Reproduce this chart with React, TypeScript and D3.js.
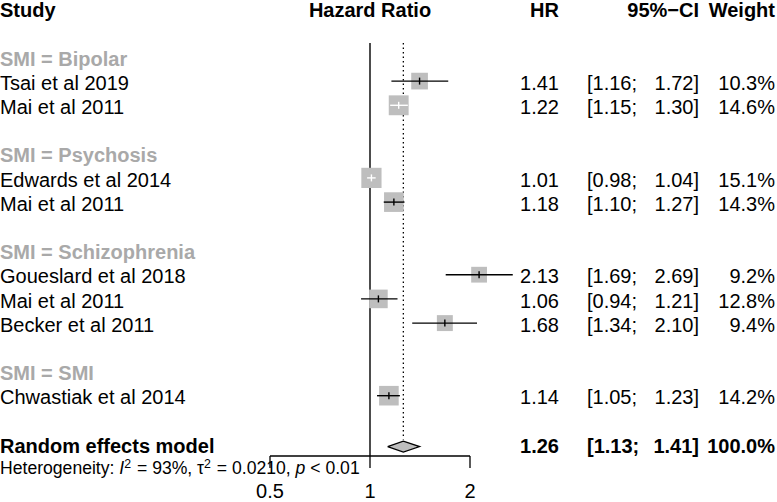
import React from "react";
import * as d3 from "d3";

const groupNames = ["SMI = Bipolar", "SMI = Psychosis", "SMI = Schizophrenia", "SMI = SMI"];
const studyGroup = [0, 0, 1, 1, 2, 2, 2, 3];
const studies = [
  "Tsai et al 2019",
  "Mai et al 2011",
  "Edwards et al 2014",
  "Mai et al 2011",
  "Goueslard et al 2018",
  "Mai et al 2011",
  "Becker et al 2011",
  "Chwastiak et al 2014",
];
const hr = [1.41, 1.22, 1.01, 1.18, 2.13, 1.06, 1.68, 1.14];
const lower = [1.16, 1.15, 0.98, 1.1, 1.69, 0.94, 1.34, 1.05];
const upper = [1.72, 1.3, 1.04, 1.27, 2.69, 1.21, 2.1, 1.23];
const weights = [10.3, 14.6, 15.1, 14.3, 9.2, 12.8, 9.4, 14.2];
const pooled = { hr: 1.26, lower: 1.13, upper: 1.41, weight: 100.0 };
const tickValues = [0.5, 1, 2];
const tickLabels = ["0.5", "1", "2"];

const W = 777;
const H = 502;
const FONT = "'Liberation Sans', Arial, Helvetica, sans-serif";
const FS = 20;
const FS_HET = 17.6;
const ROW0 = 10;
const ROWH = 24.2;
const GREYTXT = "#A9A9A9";
const BOX = "#BEBEBE";

const x = d3.scaleLog().domain([0.5, 2]).range([270, 470]);
const rowY = (i: number) => ROW0 + ROWH * i;

type Row =
  | { kind: "group"; label: string; row: number }
  | { kind: "study"; idx: number; row: number };

function buildRows(): Row[] {
  const rows: Row[] = [];
  let r = 2;
  groupNames.forEach((g, gi) => {
    rows.push({ kind: "group", label: g, row: r });
    r += 1;
    studyGroup.forEach((sg, i) => {
      if (sg === gi) {
        rows.push({ kind: "study", idx: i, row: r });
        r += 1;
      }
    });
    r += 1;
  });
  return rows;
}

const fmt2 = d3.format(".2f");
const fmt1 = d3.format(".1f");

export default function App() {
  const rows = buildRows();
  const pooledRow = 18;
  const axisY = 456;
  const topY = 43;
  const boxScale = 5.2;

  return (
    <div style={{ position: "absolute", left: 0, top: 0 }}>
      <svg width={W} height={H} style={{ display: "block", fontFamily: FONT }}>
        <rect width={W} height={H} fill="#fff" />
        {/* headers */}
        <g fontWeight="bold" fontSize={FS}>
          <text x={0} y={rowY(0)} dy="0.36em">Study</text>
          <text x={370} y={rowY(0)} dy="0.36em" textAnchor="middle">Hazard Ratio</text>
          <text x={559} y={rowY(0)} dy="0.36em" textAnchor="end">HR</text>
          <text x={699} y={rowY(0)} dy="0.36em" textAnchor="end">95%−CI</text>
          <text x={775} y={rowY(0)} dy="0.36em" textAnchor="end">Weight</text>
        </g>

        {/* reference lines */}
        <line x1={x(1)} x2={x(1)} y1={topY} y2={axisY} stroke="#000" strokeWidth={1.4} />
        <line
          x1={x(pooled.hr)}
          x2={x(pooled.hr)}
          y1={topY}
          y2={rowY(pooledRow) - 6}
          stroke="#000"
          strokeWidth={1.3}
          strokeDasharray="1.5,3"
        />

        {rows.map((r, k) => {
          const y = rowY(r.row);
          if (r.kind === "group") {
            return (
              <text key={k} x={0} y={y} dy="0.36em" fontSize={FS} fontWeight="bold" fill={GREYTXT}>
                {r.label}
              </text>
            );
          }
          const i = r.idx;
          const side = boxScale * Math.sqrt(weights[i]);
          const cx = x(hr[i]);
          const xl = x(lower[i]);
          const xu = x(upper[i]);
          const inside = xl >= cx - side / 2 && xu <= cx + side / 2;
          const lc = inside ? "#fff" : "#000";
          return (
            <g key={k}>
              <text x={0} y={y} dy="0.36em" fontSize={FS}>{studies[i]}</text>
              <rect x={cx - side / 2} y={y - 1.5 - side / 2} width={side} height={side} fill={BOX} />
              <line x1={xl} x2={xu} y1={y - 1.5} y2={y - 1.5} stroke={lc} strokeWidth={1.4} />
              <line x1={cx} x2={cx} y1={y - 5} y2={y + 2} stroke={lc} strokeWidth={1.4} />
              <text x={559} y={y} dy="0.36em" fontSize={FS} textAnchor="end">{fmt2(hr[i])}</text>
              <text x={587} y={y} dy="0.36em" fontSize={FS}>{`[${fmt2(lower[i])};`}</text>
              <text x={699} y={y} dy="0.36em" fontSize={FS} textAnchor="end">{`${fmt2(upper[i])}]`}</text>
              <text x={775} y={y} dy="0.36em" fontSize={FS} textAnchor="end">{`${fmt1(weights[i])}%`}</text>
            </g>
          );
        })}

        {/* pooled */}
        {(() => {
          const y = rowY(pooledRow) + 1;
          const pts: [number, number][] = [
            [x(pooled.lower), y],
            [x(pooled.hr), y - 5.5],
            [x(pooled.upper), y],
            [x(pooled.hr), y + 5.5],
          ];
          const line = d3.line()(pts.concat([pts[0]])) || "";
          const ty = rowY(pooledRow);
          return (
            <g>
              <path d={line} fill={BOX} stroke="#000" strokeWidth={1.3} />
              <g fontWeight="bold" fontSize={FS}>
                <text x={0} y={ty} dy="0.36em">Random effects model</text>
                <text x={559} y={ty} dy="0.36em" textAnchor="end">{fmt2(pooled.hr)}</text>
                <text x={587} y={ty} dy="0.36em">{`[${fmt2(pooled.lower)};`}</text>
                <text x={699} y={ty} dy="0.36em" textAnchor="end">{`${fmt2(pooled.upper)}]`}</text>
                <text x={775} y={ty} dy="0.36em" textAnchor="end">{`${fmt1(pooled.weight)}%`}</text>
              </g>
            </g>
          );
        })()}

        {/* heterogeneity */}
        <text x={0} y={468} dy="0.36em" fontSize={FS_HET}>
          <tspan>Heterogeneity: </tspan>
          <tspan fontStyle="italic">I</tspan>
          <tspan fontSize={FS_HET * 0.7} dy="-0.55em">2</tspan>
          <tspan dy="0.385em" dx="1">{" = 93%, τ"}</tspan>
          <tspan fontSize={FS_HET * 0.7} dy="-0.55em">2</tspan>
          <tspan dy="0.385em" dx="1">{" = 0.0210, "}</tspan>
          <tspan fontStyle="italic">p</tspan>
          <tspan>{" < 0.01"}</tspan>
        </text>

        {/* axis */}
        <line x1={x(0.5)} x2={x(2)} y1={axisY} y2={axisY} stroke="#000" strokeWidth={1.3} />
        {tickValues.map((t, i) => (
          <g key={t}>
            <line x1={x(t)} x2={x(t)} y1={axisY} y2={axisY + 12} stroke="#000" strokeWidth={1.3} />
            <text x={x(t)} y={491} dy="0.36em" fontSize={FS} textAnchor="middle">{tickLabels[i]}</text>
          </g>
        ))}
      </svg>
    </div>
  );
}
